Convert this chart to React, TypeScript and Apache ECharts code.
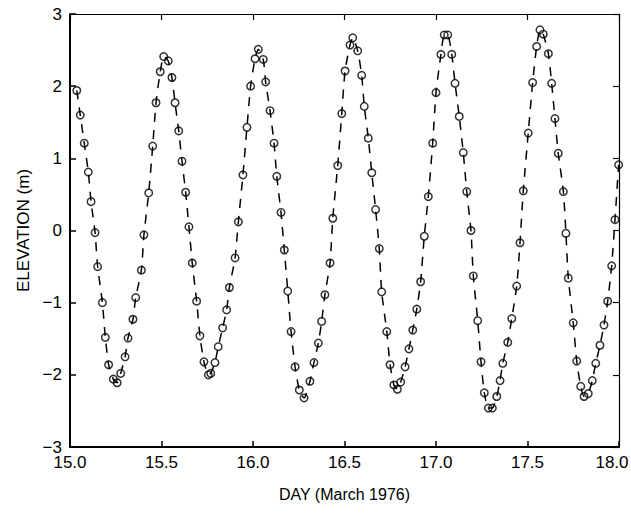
import React, { useEffect, useRef } from "react";
import * as echarts from "echarts";

const days: number[] = [
  15.037, 15.056, 15.078, 15.1, 15.115, 15.137, 15.151, 15.177, 15.193, 15.211,
  15.237, 15.258, 15.277, 15.301, 15.317, 15.344, 15.359, 15.39, 15.404, 15.43,
  15.452, 15.47, 15.493, 15.512, 15.537, 15.557, 15.574, 15.594, 15.612, 15.632,
  15.65, 15.668, 15.692, 15.71, 15.732, 15.756, 15.769, 15.792, 15.81, 15.834,
  15.856, 15.871, 15.902, 15.92, 15.945, 15.967, 15.987, 16.011, 16.029, 16.056,
  16.069, 16.093, 16.115, 16.13, 16.153, 16.171, 16.19, 16.208, 16.23, 16.253,
  16.279, 16.311, 16.333, 16.357, 16.375, 16.393, 16.421, 16.436, 16.463, 16.485,
  16.503, 16.53, 16.545, 16.572, 16.594, 16.608, 16.63, 16.649, 16.67, 16.69,
  16.703, 16.731, 16.749, 16.77, 16.789, 16.807, 16.831, 16.852, 16.873, 16.895,
  16.916, 16.936, 16.958, 16.982, 17.0, 17.027, 17.045, 17.064, 17.086, 17.104,
  17.127, 17.149, 17.168, 17.191, 17.204, 17.228, 17.246, 17.264, 17.286, 17.308,
  17.332, 17.35, 17.365, 17.392, 17.414, 17.441, 17.459, 17.477, 17.504, 17.528,
  17.55, 17.568, 17.586, 17.614, 17.632, 17.65, 17.668, 17.696, 17.71, 17.723,
  17.75, 17.769, 17.791, 17.809, 17.832, 17.854, 17.873, 17.896, 17.918, 17.938,
  17.96, 17.978, 17.998,
];

const elevation: number[] = [
  1.94, 1.6, 1.21, 0.81, 0.4, -0.03, -0.5, -1.0, -1.48, -1.86,
  -2.06, -2.11, -1.98, -1.75, -1.49, -1.23, -0.93, -0.55, -0.06, 0.52,
  1.17, 1.77, 2.2, 2.41, 2.35, 2.12, 1.77, 1.38, 0.96, 0.53,
  0.05, -0.45, -0.98, -1.46, -1.82, -2.0, -1.98, -1.83, -1.61, -1.35,
  -1.1, -0.79, -0.38, 0.12, 0.77, 1.43, 2.0, 2.38, 2.51, 2.37,
  2.06, 1.66, 1.21, 0.75, 0.25, -0.27, -0.84, -1.4, -1.89, -2.21,
  -2.32, -2.09, -1.83, -1.56, -1.26, -0.89, -0.45, 0.17, 0.9, 1.62,
  2.21, 2.57, 2.67, 2.49, 2.15, 1.72, 1.28, 0.8, 0.29, -0.25,
  -0.85, -1.4, -1.86, -2.14, -2.2, -2.1, -1.89, -1.64, -1.38, -1.09,
  -0.71, -0.08, 0.47, 1.21, 1.91, 2.44, 2.71, 2.71, 2.44, 2.04,
  1.58, 1.08, 0.54, 0.0, -0.63, -1.25, -1.82, -2.25, -2.46, -2.46,
  -2.3, -2.08, -1.84, -1.55, -1.22, -0.77, -0.17, 0.55, 1.35, 2.05,
  2.55, 2.78, 2.72, 2.45, 2.04, 1.55, 1.07, 0.54, -0.04, -0.66,
  -1.28, -1.81, -2.16, -2.3, -2.26, -2.08, -1.84, -1.59, -1.31, -0.98,
  -0.49, 0.15, 0.91,
];

const xTicks = { min: 15, max: 18, step: 0.5 };
const yTicks = { min: -3, max: 3, step: 1 };

const FONT = '"Liberation Sans", Arial, Helvetica, sans-serif';

export default function App() {
  const ref = useRef<HTMLDivElement>(null);

  useEffect(() => {
    document.body.style.margin = "0";
    if (!ref.current) return;
    const chart = echarts.init(ref.current, null, { renderer: "svg" });
    const pts = days.map((d, i) => [d, elevation[i]]);

    const baseX = {
      type: "value" as const,
      min: xTicks.min,
      max: xTicks.max,
      interval: xTicks.step,
      splitLine: { show: false },
    };
    const baseY = {
      type: "value" as const,
      min: yTicks.min,
      max: yTicks.max,
      interval: yTicks.step,
      splitLine: { show: false },
    };

    chart.setOption({
      animation: false,
      backgroundColor: "#fff",
      textStyle: { fontFamily: FONT },
      grid: {
        left: 70,
        right: 12,
        top: 14,
        bottom: 67,
        containLabel: false,
        outerBoundsMode: "none",
      },
      xAxis: [
        {
          ...baseX,
          position: "bottom",
          axisLine: { onZero: false, lineStyle: { color: "#000", width: 2 } },
          axisTick: { inside: true, length: 6, lineStyle: { color: "#000", width: 1.5 } },
          axisLabel: {
            color: "#000",
            fontSize: 17,
            fontFamily: FONT,
            margin: 7,
            formatter: (v: number) =>
              v >= xTicks.max ? "{r|" + v.toFixed(1) + "}" : v.toFixed(1),
            rich: {
              r: { fontSize: 17, fontFamily: FONT, color: "#000", padding: [0, 14, 0, 0] },
            },
          },
          name: "DAY (March 1976)",
          nameLocation: "middle",
          nameGap: 39,
          nameTextStyle: { color: "#000", fontSize: 16, fontFamily: FONT },
        },
        {
          ...baseX,
          position: "top",
          axisLine: { onZero: false, lineStyle: { color: "#000", width: 1.2 } },
          axisTick: { inside: true, length: 6, lineStyle: { color: "#000", width: 1.2 } },
          axisLabel: { show: false },
        },
      ],
      yAxis: [
        {
          ...baseY,
          position: "left",
          axisLine: { onZero: false, lineStyle: { color: "#000", width: 2 } },
          axisTick: { inside: true, length: 6, lineStyle: { color: "#000", width: 1.5 } },
          axisLabel: {
            color: "#000",
            fontSize: 17,
            fontFamily: FONT,
            margin: 8,
            formatter: (v: number) => (v < 0 ? "\u2212" + Math.abs(v) : String(v)),
          },
          name: "ELEVATION (m)",
          nameLocation: "middle",
          nameRotate: 90,
          nameGap: 34,
          nameTextStyle: { color: "#000", fontSize: 17, fontFamily: FONT },
        },
        {
          ...baseY,
          position: "right",
          axisLine: { onZero: false, lineStyle: { color: "#000", width: 1.2 } },
          axisTick: { inside: true, length: 6, lineStyle: { color: "#000", width: 1.2 } },
          axisLabel: { show: false },
        },
      ],
      series: [
        {
          name: "model",
          type: "line",
          data: pts,
          showSymbol: false,
          symbol: "none",
          smooth: 0.2,
          lineStyle: { color: "#000", width: 1.5, type: [9, 8] },
          z: 2,
        },
        {
          name: "observed",
          type: "scatter",
          data: pts,
          symbol: "circle",
          symbolSize: 7.5,
          itemStyle: { color: "rgba(255,255,255,0)", borderColor: "#000", borderWidth: 1.5 },
          z: 3,
        },
      ],
    });
    return () => chart.dispose();
  }, []);

  return <div ref={ref} style={{ width: 631, height: 514 }} />;
}
